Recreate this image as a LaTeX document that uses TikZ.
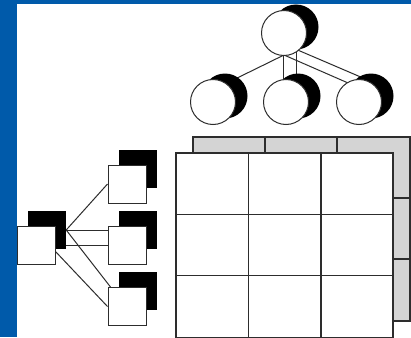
\documentclass[tikz,border=0pt]{standalone}
\usetikzlibrary{calc}
\pgfdeclarelayer{bg}
\pgfsetlayers{bg,main}
\definecolor{frameblue}{RGB}{0,90,170}
\definecolor{ink}{RGB}{45,45,45}
\definecolor{backgray}{RGB}{212,212,212}
\begin{document}
\begin{tikzpicture}[x=1pt,y=-1pt,
  ball/.style={circle,draw=ink,line width=1pt,fill=white,minimum size=45pt,inner sep=0pt},
  ballshade/.style={circle,fill=black,minimum size=45pt,inner sep=0pt},
  box/.style={rectangle,draw=ink,line width=1pt,fill=white,minimum size=38pt,inner sep=0pt},
  boxshade/.style={rectangle,fill=black,minimum size=38pt,inner sep=0pt},
  link/.style={draw=ink,line width=1pt},
  gridline/.style={draw=ink,line width=1.2pt}]
\useasboundingbox (0,0) rectangle (411,337);

% back grid
\filldraw[fill=backgray,gridline] (193,137) rectangle (410,321);
\draw[gridline] (265,137) -- (265,153) (337,137) -- (337,153)
  (393,198) -- (410,198) (393,259) -- (410,259);
% front grid
\filldraw[fill=white,gridline] (176,153) rectangle (393,338);
\draw[gridline] (248.5,153) -- (248.5,338) (321,153) -- (321,338)
  (176,214.5) -- (393,214.5) (176,275.5) -- (393,275.5);

% tree of circles
\node[ballshade] (TS) at (296,27) {};
\node[ball] (T) at (284,33) {};
\node[ballshade] (LS) at (225,96) {};
\node[ball] (L) at (213,102) {};
\node[ballshade] (MS) at (298,96) {};
\node[ball] (M) at (286,102) {};
\node[ballshade] (RS) at (371,96) {};
\node[ball] (R) at (359,102) {};

% tree of squares
\node[boxshade] (rootS) at (47,230) {};
\node[box] (root) at (36,245.5) {};
\node[boxshade] (c1S) at (138,168.5) {};
\node[box] (c1) at (127,184) {};
\node[boxshade] (c2S) at (138,230) {};
\node[box] (c2) at (127,245.5) {};
\node[boxshade] (c3S) at (138,291) {};
\node[box] (c3) at (127,306.5) {};

\begin{pgfonlayer}{bg}
  \fill[white] (0,0) rectangle (411,337);
  \fill[frameblue] (0,0) rectangle (17,337);
  \fill[frameblue] (0,0) rectangle (411,4);
  % circle links
  \draw[link] ($(T.center)+(0,22)$) -- ($(LS.center)+(3,-13.5)$);
  \draw[link] ($(T.center)+(-0.7,17)$) -- ($(M.center)+(-2.7,-12)$);
  \draw[link] ($(T.center)+(12.7,12)$) -- ($(MS.center)+(-1.3,-11)$);
  \draw[link] ($(T.center)+(12,16.3)$) -- ($(RS.center)+(-1,-15)$);
  \draw[link] ($(T.center)+(0,22)$) -- ($(R.center)+(-7,-17.3)$);
  % square links
  \draw[link] (rootS.east) -- (c1.west);
  \draw[link] (rootS.east) -- (rootS.east -| c2.west);
  \draw[link] (c2.west -| rootS.east) -- (c2.west);
  \draw[link] (rootS.east) -- ($(c3.north west)+(3,0)$);
  \draw[link] ($(root.east)+(0,6)$) -- (c3.west);
\end{pgfonlayer}
\end{tikzpicture}
\end{document}
